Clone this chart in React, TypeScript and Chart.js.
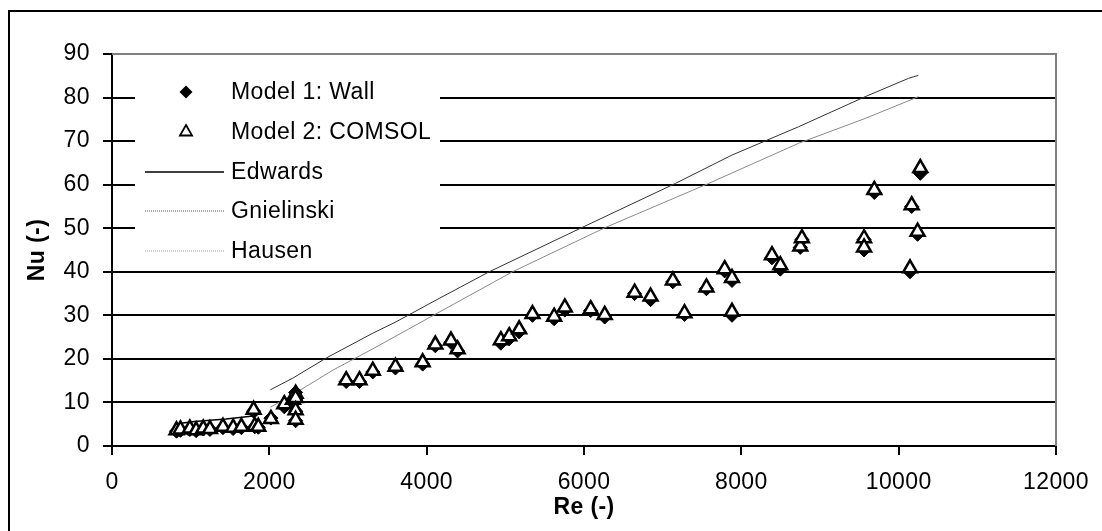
import React, { useEffect, useRef } from "react";
import { Chart, registerables } from "chart.js";

Chart.register(...registerables);

// ---- data ----
const reValues = [
  820, 870, 990, 1070, 1160, 1245, 1410, 1540, 1645, 1800, 1815, 1860, 2020, 2190, 2300, 2334, 2334, 2334, 2334,
  2977, 3146, 3315, 3603, 3949, 4110, 4309, 4393,
  4943, 5049, 5176, 5345, 5620, 5756, 6085, 6263,
  6643, 6846, 7129, 7277, 7556, 7788, 7881, 7881,
  8389, 8495, 8749, 8770, 9560, 9560,
  9690, 10144, 10165, 10240, 10275,
];
const wallNu = [
  3.4, 3.6, 3.8, 3.5, 3.9, 3.8, 4.2, 4.0, 4.2, 8.0, 4.4, 4.3, 6.4, 9.0, 10.4, 12.3, 10.6, 8.0, 5.8,
  14.8, 14.8, 17.0, 17.9, 18.8, 23.0, 23.8, 21.8,
  23.6, 24.6, 26.2, 30.0, 29.2, 31.2, 31.1, 29.6,
  35.0, 33.6, 37.7, 30.2, 36.1, 40.2, 38.0, 30.0,
  43.2, 40.6, 45.6, 47.4, 47.4, 45.0,
  58.2, 40.0, 55.0, 48.6, 62.6,
];
const comsolNu = [
  3.6, 3.8, 4.0, 3.6, 4.0, 3.9, 4.4, 4.2, 4.4, 8.3, 4.6, 4.4, 6.2, 9.6, 10.6, 12.0, 11.0, 8.2, 6.0,
  15.1, 15.1, 17.3, 18.2, 19.2, 23.3, 24.2, 22.2,
  24.3, 25.2, 26.8, 30.3, 29.7, 31.8, 31.4, 30.1,
  35.2, 34.3, 38.0, 30.5, 36.4, 40.6, 38.6, 30.8,
  43.8, 41.5, 45.8, 47.7, 47.7, 45.6,
  58.8, 40.8, 55.3, 49.2, 63.8,
];
const edwardsRe = [820, 900, 1050, 1250, 1450, 1650, 1850];
const edwardsNu = [5.0, 5.3, 5.6, 5.9, 6.2, 6.6, 7.0];
const gnielinskiRe = [2013, 2300, 2723, 3315, 3610, 4119, 4795, 5979, 7163, 7881, 8728, 9574, 10123, 10250];
const gnielinskiNu = [12.9, 15.6, 20.2, 25.9, 28.5, 33.5, 40.0, 50.2, 60.3, 66.8, 73.3, 80.2, 84.4, 85.1];
const hausenRe = [2013, 2334, 2807, 3315, 4246, 5091, 6276, 7586, 8728, 9574, 10144, 10250];
const hausenNu = [8.9, 12.2, 17.4, 22.3, 31.6, 40.0, 50.2, 60.3, 69.5, 75.2, 79.4, 80.2];

const xTickValues = [0, 2000, 4000, 6000, 8000, 10000, 12000];
const yTickValues = [0, 10, 20, 30, 40, 50, 60, 70, 80, 90];
const seriesNames = ["Model 1: Wall", "Model 2: COMSOL", "Edwards", "Gnielinski", "Hausen"];
const xTitle = "Re (-)";
const yTitle = "Nu (-)";

const FONT = '"Liberation Sans", Arial, Helvetica, sans-serif';
const SPACING = "0.4px";

const pts = (xs: number[], ys: number[]) => xs.map((x, i) => ({ x, y: ys[i] }));

const framePlugin = {
  id: "frameAndLegend",
  beforeDraw(chart: any) {
    chart.ctx.letterSpacing = SPACING;
  },
  afterDraw(chart: any) {
    const ctx = chart.ctx;
    const a = chart.chartArea;
    ctx.save();
    // plot area border (gray top and right)
    ctx.strokeStyle = "#808080";
    ctx.lineWidth = 2;
    ctx.beginPath();
    ctx.moveTo(a.left, a.top);
    ctx.lineTo(a.right, a.top);
    ctx.lineTo(a.right, a.bottom);
    ctx.stroke();
    // outer frame
    ctx.strokeStyle = "#000";
    ctx.lineWidth = 2;
    ctx.beginPath();
    ctx.moveTo(9, chart.height + 2);
    ctx.lineTo(9, 11);
    ctx.lineTo(chart.width + 2, 11);
    ctx.stroke();

    // legend
    const bx = 135, by = 58, bw = 305, bh = 210;
    ctx.fillStyle = "#fff";
    ctx.fillRect(bx, by, bw, bh);
    const rows = [92, 132, 172, 211, 251];
    const mx = 186, tx = 231;
    ctx.font = `23px ${FONT}`;
    ctx.letterSpacing = SPACING;
    ctx.textBaseline = "middle";
    ctx.textAlign = "left";
    seriesNames.forEach((name, i) => {
      const y = rows[i];
      ctx.fillStyle = "#000";
      ctx.fillText(name, tx, y + 1);
      if (i === 0) {
        const r = 6.5;
        ctx.beginPath();
        ctx.moveTo(mx, y - r);
        ctx.lineTo(mx + r, y);
        ctx.lineTo(mx, y + r);
        ctx.lineTo(mx - r, y);
        ctx.closePath();
        ctx.fillStyle = "#000";
        ctx.fill();
      } else if (i === 1) {
        const r = 7;
        ctx.beginPath();
        ctx.moveTo(mx, y - r);
        ctx.lineTo(mx + 0.866 * r, y + 0.5 * r);
        ctx.lineTo(mx - 0.866 * r, y + 0.5 * r);
        ctx.closePath();
        ctx.fillStyle = "#fff";
        ctx.fill();
        ctx.strokeStyle = "#000";
        ctx.lineWidth = 1.8;
        ctx.stroke();
      } else {
        ctx.beginPath();
        ctx.moveTo(145, y);
        ctx.lineTo(224, y);
        if (i === 2) {
          ctx.setLineDash([]);
          ctx.strokeStyle = "#000";
          ctx.lineWidth = 1.5;
        } else if (i === 3) {
          ctx.setLineDash([1, 1]);
          ctx.strokeStyle = "#555";
          ctx.lineWidth = 1;
        } else {
          ctx.setLineDash([1, 1]);
          ctx.strokeStyle = "#999";
          ctx.lineWidth = 1;
        }
        ctx.stroke();
        ctx.setLineDash([]);
      }
    });
    ctx.restore();
  },
};

export default function App() {
  const ref = useRef<HTMLCanvasElement | null>(null);

  useEffect(() => {
    document.body.style.margin = "0";
    document.body.style.overflow = "hidden";
    Chart.defaults.font.family = FONT;
    Chart.defaults.color = "#000";
    const canvas = ref.current;
    if (!canvas) return;
    const chart = new Chart(canvas, {
      type: "scatter",
      data: {
        datasets: [
          {
            label: seriesNames[0],
            data: pts(reValues, wallNu),
            pointStyle: "rectRot",
            pointRadius: 7,
            backgroundColor: "#000",
            borderColor: "#000",
            borderWidth: 1,
            order: 2,
          },
          {
            label: seriesNames[1],
            data: pts(reValues, comsolNu),
            pointStyle: "triangle",
            pointRadius: 8,
            backgroundColor: "#fff",
            borderColor: "#000",
            borderWidth: 2.5,
            order: 1,
          },
          {
            label: seriesNames[2],
            data: pts(edwardsRe, edwardsNu),
            showLine: true,
            pointRadius: 0,
            borderColor: "#000",
            borderWidth: 1.5,
            order: 3,
          },
          {
            label: seriesNames[3],
            data: pts(gnielinskiRe, gnielinskiNu),
            showLine: true,
            pointRadius: 0,
            borderColor: "#333",
            borderWidth: 1,
            order: 3,
          },
          {
            label: seriesNames[4],
            data: pts(hausenRe, hausenNu),
            showLine: true,
            pointRadius: 0,
            borderColor: "#8a8a8a",
            borderWidth: 1,
            order: 3,
          },
        ],
      },
      options: {
        responsive: false,
        animation: false,
        devicePixelRatio: 1,
        layout: { padding: { left: 0, top: 54, right: 44, bottom: 0 } },
        plugins: { legend: { display: false }, tooltip: { enabled: false } },
        scales: {
          x: {
            type: "linear",
            min: 0,
            max: 12000,
            afterBuildTicks: (s: any) => {
              s.ticks = xTickValues.map((v) => ({ value: v }));
            },
            afterFit: (s: any) => {
              s.height = 85;
            },
            grid: { drawOnChartArea: false, drawTicks: true, tickLength: 9, color: "#000", lineWidth: 2 },
            border: { display: true, color: "#000", width: 2 },
            ticks: {
              padding: 14,
              color: "#000",
              font: { size: 23, lineHeight: 1.2 },
              maxRotation: 0,
              autoSkip: false,
              callback: (v: any) => String(v),
            },
            title: {
              display: true,
              text: xTitle,
              color: "#000",
              font: { size: 23, weight: "bold", lineHeight: 1.2 },
              padding: { top: 0, bottom: 10 },
            },
          },
          y: {
            type: "linear",
            min: 0,
            max: 90,
            afterBuildTicks: (s: any) => {
              s.ticks = yTickValues.map((v) => ({ value: v }));
            },
            afterFit: (s: any) => {
              s.width = 112;
            },
            grid: { drawOnChartArea: true, drawTicks: true, tickLength: 9, color: "#000", lineWidth: 2 },
            border: { display: true, color: "#000", width: 2 },
            ticks: {
              padding: 13,
              color: "#000",
              font: { size: 23, lineHeight: 1.2 },
              callback: (v: any) => String(v),
            },
            title: {
              display: true,
              text: yTitle,
              color: "#000",
              font: { size: 23, weight: "bold", lineHeight: 1.2 },
              padding: { top: 24, bottom: 0 },
            },
          },
        },
      } as any,
      plugins: [framePlugin],
    });
    return () => chart.destroy();
  }, []);

  return (
    <div style={{ width: 1102, height: 531, position: "relative" }}>
      <canvas ref={ref} width={1102} height={531} style={{ display: "block" }} />
    </div>
  );
}
